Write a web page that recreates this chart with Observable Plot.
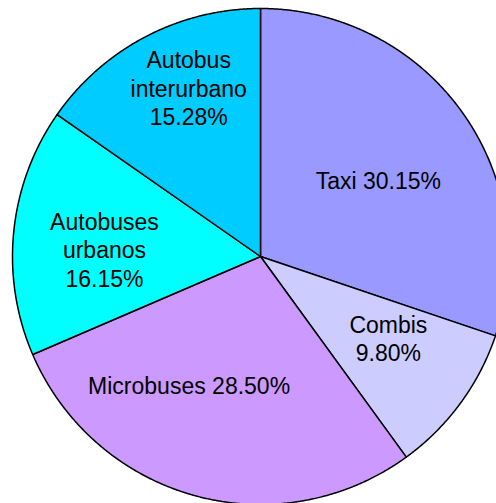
<!DOCTYPE html>
<html><head><meta charset="utf-8">
<script src="https://cdn.jsdelivr.net/npm/d3@7"></script>
<script src="https://cdn.jsdelivr.net/npm/@observablehq/plot@0.6"></script>
<style>body{margin:0;background:#fff}#chart svg{overflow:hidden}</style>
</head><body><div id="chart"></div>
<script>
// Data
const categories = ["Taxi", "Combis", "Microbuses", "Autobuses urbanos", "Autobus interurbano"];
const values = [30.15, 9.80, 28.50, 16.15, 15.28];
const labels = ["Taxi 30.15%", "Combis\n9.80%", "Microbuses 28.50%", "Autobuses\nurbanos\n16.15%", "Autobus\ninterurbano\n15.28%"];
const colors = ["#9999FF", "#CCCCFF", "#CC99FF", "#00FFFF", "#00CCFF"];

// Layout (pixels)
const W = 496, H = 503, R = 248, CX = 260, CY = 256;
const labelNudge = [[-3, 10], [8, -7], [-32, -15], [-8, 8], [-3, -37]];

const arcs = d3.pie().sort(null).value(d => d.value)(
  categories.map((c, i) => ({cat: c, value: values[i], label: labels[i]}))
);

const pts = [];
arcs.forEach(a => {
  pts.push({cat: a.data.cat, x: 0, y: 0});
  const n = Math.max(2, Math.ceil((a.endAngle - a.startAngle) / (Math.PI / 720)));
  for (let k = 0; k <= n; k++) {
    const t = a.startAngle + (a.endAngle - a.startAngle) * k / n;
    pts.push({cat: a.data.cat, x: Math.sin(t), y: Math.cos(t)});
  }
});

const labelMarks = arcs.map((a, i) => {
  const m = (a.startAngle + a.endAngle) / 2;
  return Plot.text([{x: 0.6 * Math.sin(m), y: 0.6 * Math.cos(m), label: a.data.label}], {
    x: "x", y: "y", text: "label",
    dx: labelNudge[i][0], dy: labelNudge[i][1],
    fill: "#000", fontSize: 23, lineHeight: 1.23,
    fontFamily: "Liberation Sans, Arial, sans-serif", textAnchor: "middle"
  });
});

const chart = Plot.plot({
  width: W, height: H,
  margin: 0,
  x: {domain: [-CX / R, (W - CX) / R], axis: null},
  y: {domain: [-(H - CY) / R, CY / R], axis: null},
  color: {domain: categories, range: colors},
  style: {background: "#fff", fontFamily: "Liberation Sans, Arial, sans-serif"},
  marks: [
    Plot.line(pts, {x: "x", y: "y", z: "cat", fill: "cat", stroke: "#000", strokeWidth: 1.5,
      strokeLinejoin: "round", curve: "linear-closed"}),
    ...labelMarks
  ]
});
document.getElementById("chart").appendChild(chart);
</script>
</body></html>
